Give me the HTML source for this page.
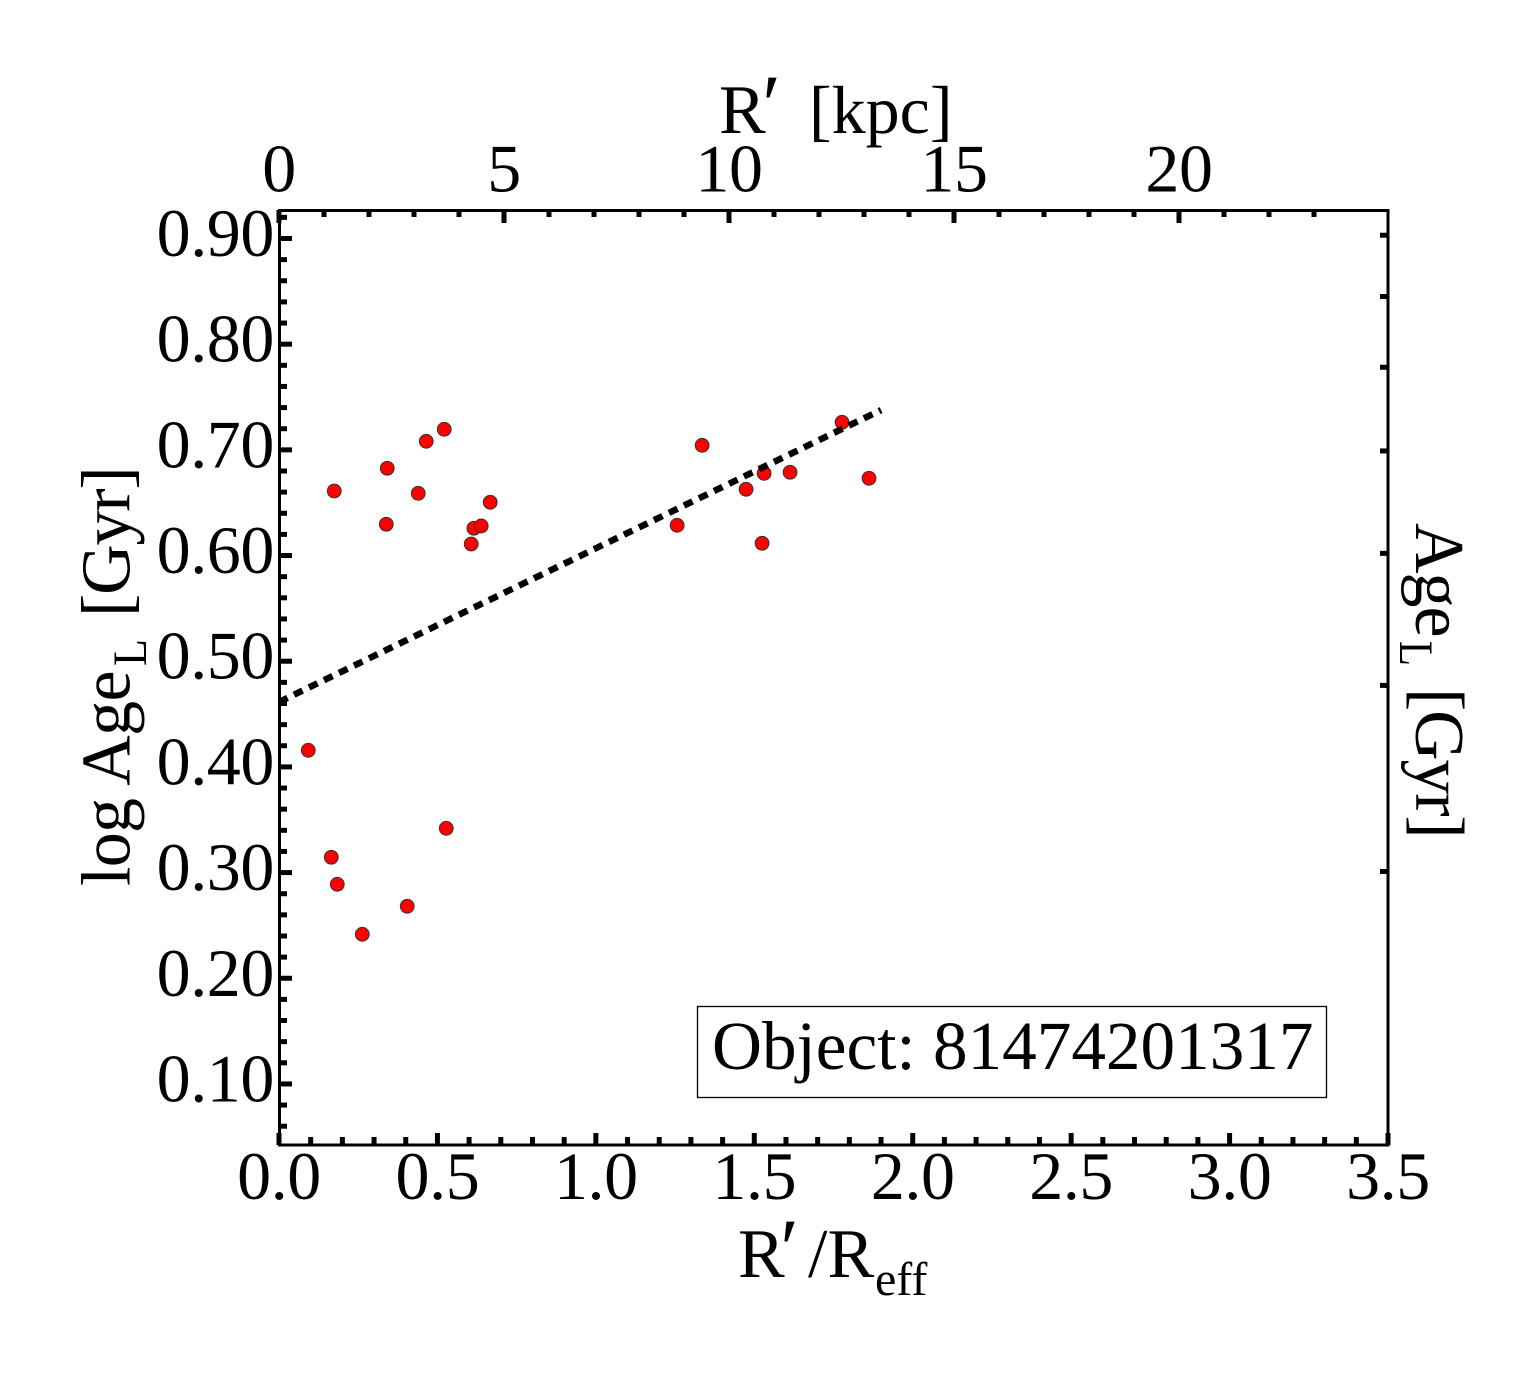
<!DOCTYPE html>
<html>
<head>
<meta charset="utf-8">
<title>log Age vs radius</title>
<style>
html,body{margin:0;padding:0;background:#fff;}
svg{display:block;}
text{font-family:"Liberation Serif",serif;fill:#000;}
</style>
</head>
<body>
<svg id="chart" xmlns="http://www.w3.org/2000/svg" width="1540" height="1375" viewBox="0 0 1540 1375">
  <rect x="0" y="0" width="1540" height="1375" fill="#fff"/>
  <g id="fit"></g>
  <g id="points"></g>
  <g id="ticks"></g>
  <rect x="279.5" y="210.5" width="1108.5" height="934.5" fill="none" stroke="#000" stroke-width="3"/>
  <g id="labels"></g>

  <g font-size="70">
    <text x="719" y="133">R</text>
    <text x="757" y="133" font-size="85" font-style="italic">′</text>
    <text x="809" y="133" font-size="68">[kpc]</text>
  </g>
  <g font-size="70">
    <text x="738" y="1277">R</text>
    <text x="775" y="1277" font-size="85" font-style="italic">′</text>
    <text x="808" y="1277">/R</text>
    <text x="875" y="1295" font-size="48">eff</text>
  </g>
  <g transform="translate(129.5,886) rotate(-90)" font-size="70">
    <text x="0" y="0" letter-spacing="-0.7">log Age</text>
    <text x="220" y="16.5" font-size="48" textLength="27" lengthAdjust="spacingAndGlyphs">L</text>
    <text x="269" y="0" letter-spacing="-1.2">[Gyr]</text>
  </g>
  <g transform="translate(1416,523) rotate(90)" font-size="70">
    <text x="0" y="0" letter-spacing="-1">Age</text>
    <text x="118" y="16" font-size="48" textLength="25" lengthAdjust="spacingAndGlyphs">L</text>
    <text x="165" y="0" letter-spacing="-1.2">[Gyr]</text>
  </g>

  <g>
    <rect x="697.5" y="1006.5" width="629" height="91" fill="#fff" stroke="#000" stroke-width="1.3"/>
    <text x="712" y="1069" font-size="69.2">Object: 81474201317</text>
  </g>
</svg>
<script>
// Data
const pointR = [0.1744,0.3416,0.3385,0.4394,0.4647,0.5215,0.6666,0.6151,0.6382,0.6066,1.3353,1.2565,1.4741,1.5309,1.6129,1.5246,1.7770,1.8621,0.0924,0.5278,0.1650,0.1839,0.4047,0.2628];
const pointLogAge = [0.6611,0.6826,0.6296,0.6589,0.7081,0.7195,0.6504,0.6258,0.6280,0.6109,0.7043,0.6286,0.6627,0.6778,0.6788,0.6116,0.7261,0.6731,0.4157,0.3419,0.3145,0.2889,0.2681,0.2416];
const fitR = [0, 1.9];
const fitLogAge = [0.4614, 0.7377];
const xTickLabels = ["0.0","0.5","1.0","1.5","2.0","2.5","3.0","3.5"];
const xTickValues = [0,0.5,1,1.5,2,2.5,3,3.5];
const xMinorValues = [0.1,0.2,0.3,0.4,0.6,0.7,0.8,0.9,1.1,1.2,1.3,1.4,1.6,1.7,1.8,1.9,2.1,2.2,2.3,2.4,2.6,2.7,2.8,2.9,3.1,3.2,3.3,3.4];
const yTickLabels = ["0.10","0.20","0.30","0.40","0.50","0.60","0.70","0.80","0.90"];
const yTickValues = [0.1,0.2,0.3,0.4,0.5,0.6,0.7,0.8,0.9];
const yMinorValues = [0.06,0.08,0.12,0.14,0.16,0.18,0.22,0.24,0.26,0.28,0.32,0.34,0.36,0.38,0.42,0.44,0.46,0.48,0.52,0.54,0.56,0.58,0.62,0.64,0.66,0.68,0.72,0.74,0.76,0.78,0.82,0.84,0.86,0.88,0.92];
const topTickLabels = ["0","5","10","15","20"];
const topTickValues = [0,5,10,15,20];
const topMinorValues = [1,2,3,4,6,7,8,9,11,12,13,14,16,17,18,19,21,22,23];
const rightAgeValues = [2,3,4,5,6,7,8];

// Axis functions
function xScale(v){ return 279 + 316.86 * v; }
function yScale(v){ return 238.5 + (0.9 - v) * 1056.8; }
function topScale(v){ return 279 + 45 * v; }
function rightScale(age){ return yScale(Math.log10(age)); }

const NS = 'http://www.w3.org/2000/svg';
const ticksLayer = document.getElementById('ticks');
const labelsLayer = document.getElementById('labels');
const pointsLayer = document.getElementById('points');
const fitLayer = document.getElementById('fit');

function tickLine(x1,y1,x2,y2,name){
  const el = document.createElementNS(NS,'line');
  el.setAttribute('x1',x1);
  el.setAttribute('y1',y1);
  el.setAttribute('x2',x2);
  el.setAttribute('y2',y2);
  el.setAttribute('stroke','#000');
  el.setAttribute('stroke-width','5');
  
  
  ticksLayer.appendChild(el);
}
function tickText(x,y,str,anchor,name){
  const el = document.createElementNS(NS,'text');
  el.setAttribute('x',x);
  el.setAttribute('y',y);
  el.setAttribute('text-anchor',anchor);
  el.setAttribute('font-size','68');
  el.setAttribute('letter-spacing','-0.4');
  el.textContent = str;
  
  
  labelsLayer.appendChild(el);
}

xTickValues.forEach(function(v){ tickLine(xScale(v),1145,xScale(v),1133,'x-major-tick'); });
xMinorValues.forEach(function(v){ tickLine(xScale(v),1145,xScale(v),1137,'x-minor-tick'); });
yTickValues.forEach(function(v){ tickLine(279,yScale(v),292,yScale(v),'y-major-tick'); });
yMinorValues.forEach(function(v){ tickLine(279,yScale(v),287,yScale(v),'y-minor-tick'); });
topTickValues.forEach(function(v){ tickLine(topScale(v),210,topScale(v),223,'top-major-tick'); });
topMinorValues.forEach(function(v){ tickLine(topScale(v),210,topScale(v),217,'top-minor-tick'); });
rightAgeValues.forEach(function(a){ tickLine(1388,rightScale(a),1380,rightScale(a),'right-age-tick'); });

xTickLabels.forEach(function(s,i){ tickText(xScale(xTickValues[i]),1199,s,'middle','x-tick-label'); });
yTickLabels.forEach(function(s,i){ tickText(274,yScale(yTickValues[i])+17.5,s,'end','y-tick-label'); });
topTickLabels.forEach(function(s,i){ tickText(topScale(topTickValues[i]),191.5,s,'middle','top-tick-label'); });

const fit = document.createElementNS(NS,'line');
fit.setAttribute('x1',xScale(fitR[0]));
fit.setAttribute('y1',yScale(fitLogAge[0]));
fit.setAttribute('x2',xScale(fitR[1]));
fit.setAttribute('y2',yScale(fitLogAge[1]));
fit.setAttribute('stroke','#000');
fit.setAttribute('stroke-width','6.5');
fit.setAttribute('stroke-dasharray','9.5 7.17');



pointR.forEach(function(r,i){
  const c = document.createElementNS(NS,'circle');
  c.setAttribute('cx',xScale(r));
  c.setAttribute('cy',yScale(pointLogAge[i]));
  c.setAttribute('r','6.9');
  c.setAttribute('fill','#ff0000');
  c.setAttribute('stroke','#333');
  c.setAttribute('stroke-width','1');
  
  
  pointsLayer.appendChild(c);
});
// The fit line is drawn over the points
pointsLayer.parentNode.insertBefore(fitLayer, pointsLayer.nextSibling);
fitLayer.appendChild(fit);
</script>
</body>
</html>
